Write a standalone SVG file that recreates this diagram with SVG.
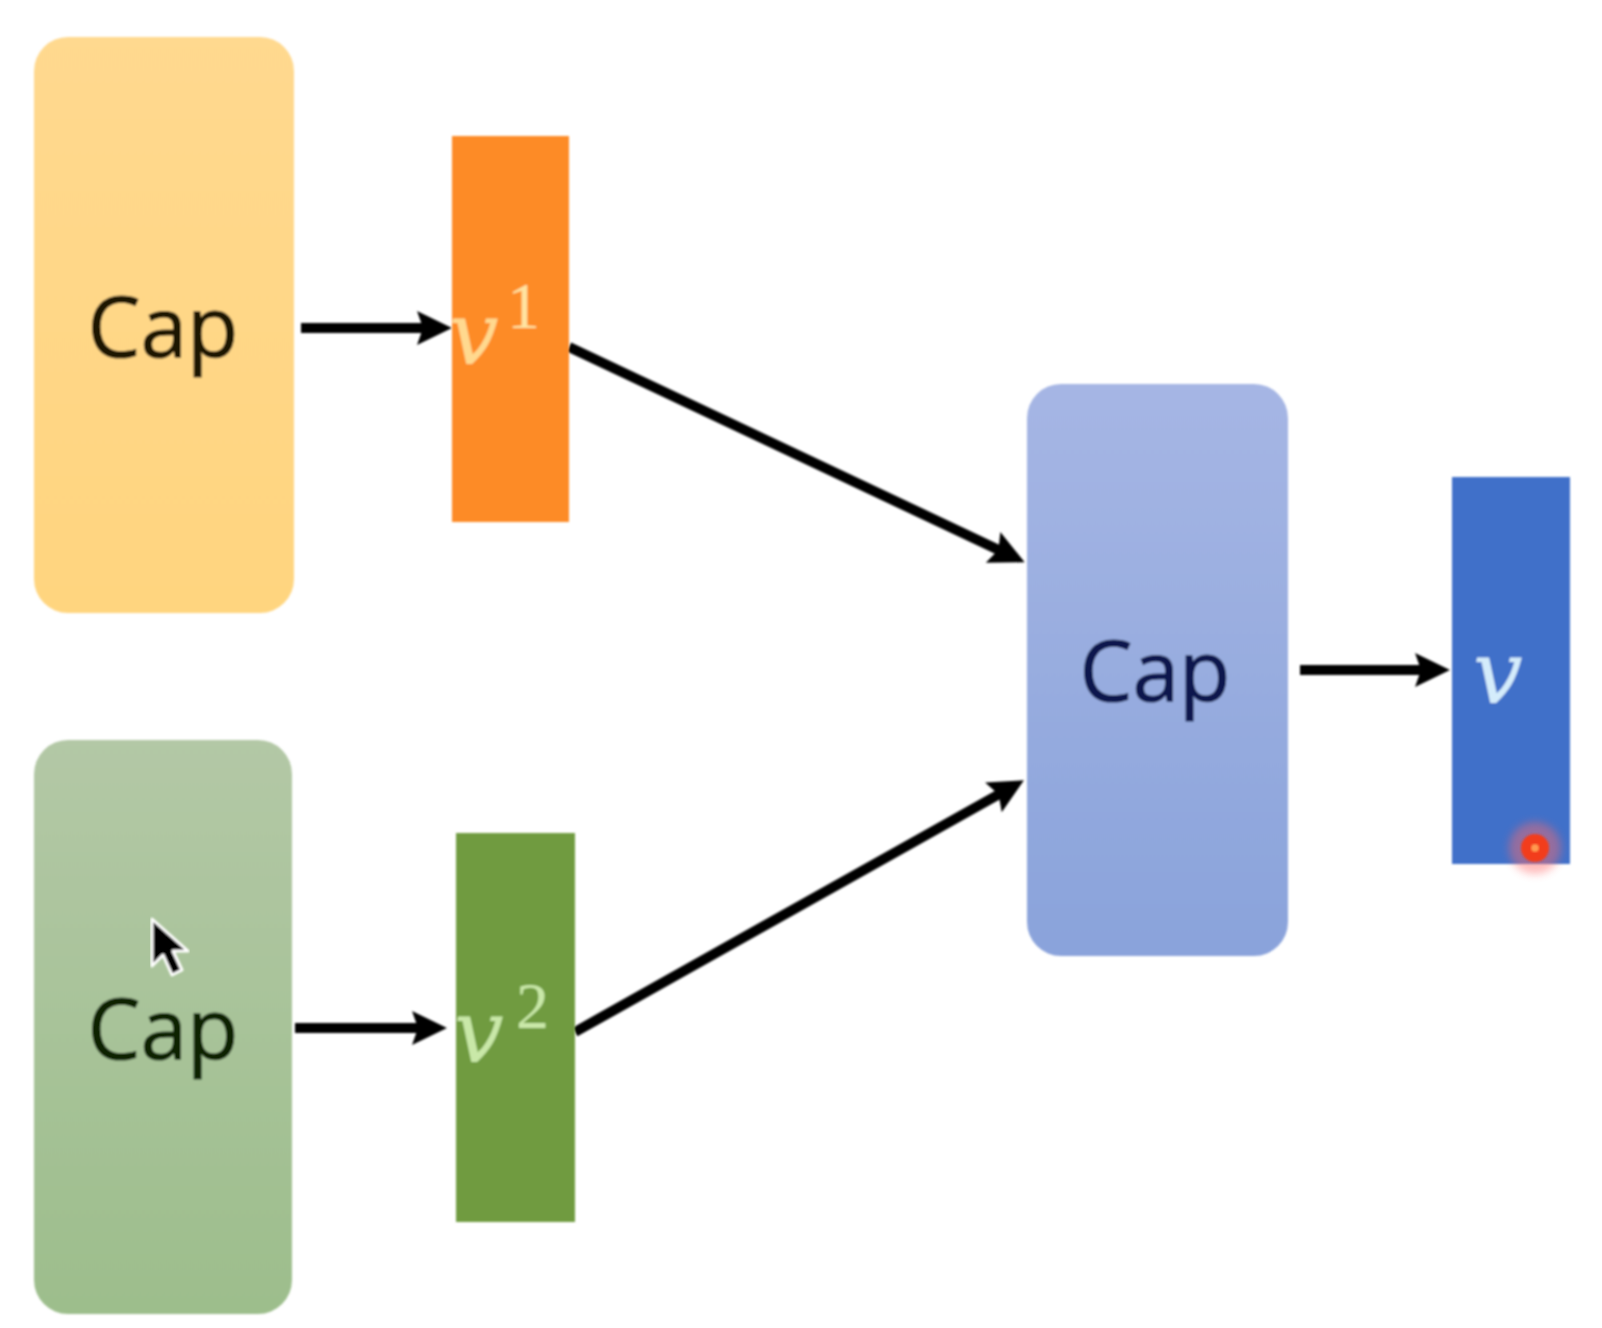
<svg xmlns="http://www.w3.org/2000/svg" width="1602" height="1328" viewBox="0 0 1602 1328">
<style>
.cap{font-family:"Open Sans","Noto Sans",sans-serif;font-size:84px;text-anchor:middle;stroke-width:1.2}
.v{font-family:"DejaVu Serif","Liberation Serif",serif;font-style:italic;font-size:88px}
.sup{font-family:"Liberation Serif",serif;font-size:66px}
.conn{fill:none;stroke:#000;stroke-width:10;marker-end:url(#head)}
</style>
<defs>
<filter id="soft" x="-5%" y="-5%" width="110%" height="110%"><feGaussianBlur stdDeviation="1.3"/></filter>
<filter id="softer" x="-5%" y="-5%" width="110%" height="110%"><feGaussianBlur stdDeviation="0.9"/></filter>
<filter id="glow" x="-50%" y="-50%" width="200%" height="200%"><feGaussianBlur stdDeviation="4"/></filter>
<linearGradient id="gy" x1="0" y1="0" x2="0" y2="1"><stop offset="0" stop-color="#FFD98F"/><stop offset="1" stop-color="#FFD57F"/></linearGradient>
<linearGradient id="gg" x1="0" y1="0" x2="0" y2="1"><stop offset="0" stop-color="#B3C8A6"/><stop offset="1" stop-color="#9DBE8C"/></linearGradient>
<linearGradient id="gb" x1="0" y1="0" x2="0" y2="1"><stop offset="0" stop-color="#A6B6E4"/><stop offset="1" stop-color="#8AA3DB"/></linearGradient>
<marker id="head" markerUnits="userSpaceOnUse" markerWidth="42" markerHeight="40" viewBox="0 0 42 40" refX="14" refY="20" orient="auto" overflow="visible">
<path d="M3 3 L38 20 L3 37 L9 20 Z" fill="#000"/>
</marker>
</defs>
<rect width="1602" height="1328" fill="#fff"/>
<g id="connectors" filter="url(#softer)">
<path id="c1" class="conn" d="M301 328 H428"/>
<path id="c2" class="conn" d="M295 1028 H423"/>
<path id="c3" class="conn" d="M1300 670 H1426"/>
<path id="c4" class="conn" d="M569 347 L1003 552"/>
<path id="c5" class="conn" d="M575 1032 L1003 792"/>
</g>
<g id="cap-top" filter="url(#soft)">
<rect x="34" y="37" width="260" height="576" rx="34" fill="url(#gy)"/>
<text class="cap" x="163" y="357" fill="#1e1200" stroke="#1e1200">Cap</text>
</g>
<g id="v1" filter="url(#softer)">
<rect x="452" y="136" width="117" height="386" fill="#FD8B28"/>
<text class="v" x="449" y="364" fill="#FFD98F">v</text>
<text class="sup" x="507" y="328" fill="#FFE3A0">1</text>
</g>
<g id="cap-bottom" filter="url(#soft)">
<rect x="34" y="740" width="258" height="574" rx="34" fill="url(#gg)"/>
<text class="cap" x="163" y="1059" fill="#082405" stroke="#082405">Cap</text>
</g>
<g id="v2" filter="url(#softer)">
<rect x="456" y="833" width="119" height="389" fill="#6F9B40"/>
<text class="v" x="454" y="1062" fill="#C9E8A8">v</text>
<text class="sup" x="516" y="1028" fill="#C9E8A8">2</text>
</g>
<g id="cap-merge" filter="url(#soft)">
<rect x="1027" y="384" width="261" height="572" rx="34" fill="url(#gb)"/>
<text class="cap" x="1155" y="701" fill="#07194d" stroke="#07194d">Cap</text>
</g>
<g id="v-out" filter="url(#softer)">
<rect x="1452" y="477" width="118" height="387" fill="#4070C9"/>
<text class="v" x="1473" y="703" fill="#D4ECFB">v</text>
</g>
<g id="pointer">
<circle cx="1535" cy="848" r="26" fill="#FF6A6A" opacity=".45" filter="url(#glow)"/>
<circle cx="1535" cy="848" r="14" fill="#F23E1E" filter="url(#softer)"/>
<circle cx="1535" cy="848" r="4" fill="#FF9A50" filter="url(#softer)"/>
</g>
<g id="cursor" filter="url(#softer)">
<path d="M152 919 V966 L163 955 L172 975 L182 970 L173 951 L188 951 Z" fill="#000" stroke="#fff" stroke-width="3" stroke-linejoin="round"/>
</g>
</svg>
